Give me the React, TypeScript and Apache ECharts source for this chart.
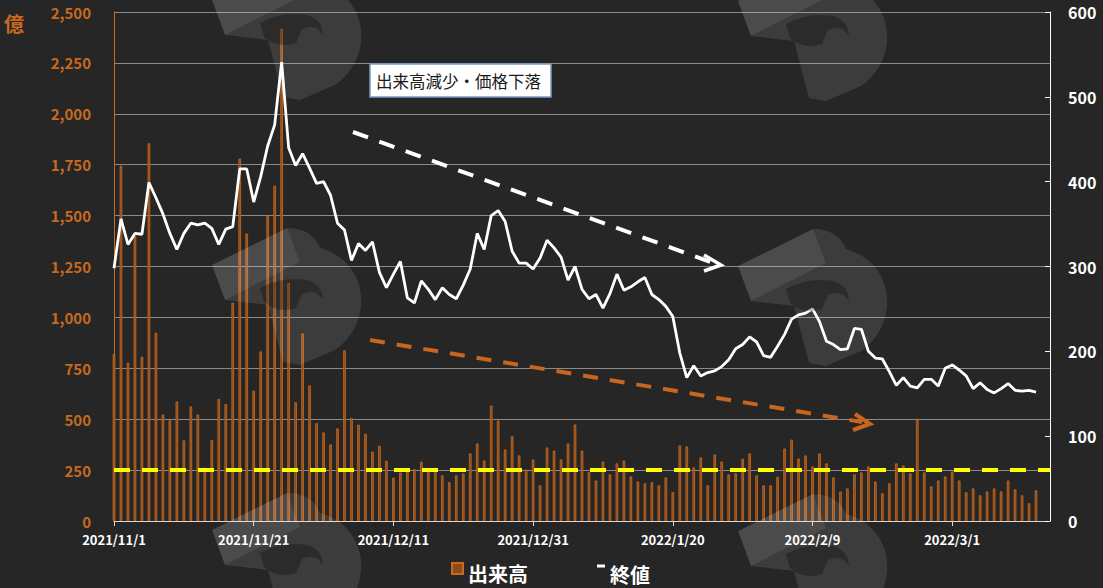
import React, { useEffect, useRef } from "react";
import * as echarts from "echarts";

// ---- data ----
const START_DATE = [2021, 11, 1];
const AXIS_DAYS = 135; // 2021/11/1 .. 2022/3/15 (axis extent)

const categories: string[] = (() => {
  const out: string[] = [];
  const t0 = Date.UTC(START_DATE[0], START_DATE[1] - 1, START_DATE[2]);
  for (let i = 0; i < AXIS_DAYS; i++) {
    const d = new Date(t0 + i * 86400000);
    out.push(`${d.getUTCFullYear()}/${d.getUTCMonth() + 1}/${d.getUTCDate()}`);
  }
  return out;
})();

// 出来高 (億)
const volume: number[] = [
  820, 1745, 777, 1400, 807, 1855, 925, 523, 495, 587,
  396, 563, 523, 262, 397, 599, 575, 1072, 1780, 1412,
  640, 833, 1500, 1647, 2418, 1170, 583, 921, 666, 480,
  435, 376, 455, 838, 506, 473, 428, 341, 370, 296,
  213, 238, 255, 255, 291, 240, 245, 224, 191, 224,
  234, 332, 381, 297, 567, 493, 351, 417, 322, 253,
  302, 175, 361, 346, 302, 381, 474, 346, 240, 199,
  292, 229, 283, 297, 219, 194, 185, 191, 175, 214,
  141, 371, 366, 263, 312, 175, 327, 292, 229, 234,
  306, 332, 224, 175, 175, 217, 356, 400, 307, 322,
  268, 332, 283, 214, 145, 160, 229, 239, 268, 194,
  136, 185, 283, 273, 234, 503, 239, 170, 199, 219,
  243, 199, 141, 160, 126, 145, 160, 145, 199, 155,
  126, 87, 150,
];

// 終値
const closePrice: number[] = [
  298, 356, 326, 339, 338, 399, 381, 362, 339, 320,
  339, 351, 349, 351, 345, 326, 344, 347, 415, 415,
  376, 406, 442, 467, 541, 440, 419, 433, 416, 398,
  400, 384, 351, 343, 307, 327, 319, 329, 293, 275,
  291, 306, 263, 257, 283, 273, 261, 275, 267, 262,
  278, 297, 339, 320, 360, 366, 353, 318, 304, 304,
  297, 310, 331, 322, 311, 284, 300, 273, 262, 267,
  251, 268, 291, 272, 276, 282, 287, 267, 261, 253,
  241, 198, 169, 183, 171, 175, 177, 182, 190, 203,
  208, 217, 211, 195, 193, 206, 220, 238, 243, 245,
  250, 235, 212, 208, 202, 203, 227, 226, 200, 192,
  191, 176, 160, 169, 159, 157, 167, 167, 159, 180,
  184, 178, 171, 156, 163, 155, 151, 156, 162, 154,
  153, 154, 152,
];

const VOLUME_NAME = "出来高";
const CLOSE_NAME = "終値";
const THRESHOLD = 250;
const ANNOTATION = "出来高減少・価格下落";
const UNIT = "億";

// ---- watermark shapes ----
const WM_MAIN =
  "M0,37 L75,0 Q100,0 108,20 C158,34 162,95 123,122 L88,137 L71,134 L56,77 L13,72 Z";
const WM_FLAG = "M0,37 L75,0 L88,34 L13,72 Z";
const WM_HEAD =
  "M48,60 Q70,48 95,52 Q110,56 111,72 L106,66 Q98,62 90,66 L84,80 Q66,86 52,74 Z";

let registered = false;
function registerShapes() {
  if (registered) return;
  registered = true;
  echarts.graphic.registerShape("wmMain", echarts.graphic.extendPath(WM_MAIN, {}));
  echarts.graphic.registerShape("wmFlag", echarts.graphic.extendPath(WM_FLAG, {}));
  echarts.graphic.registerShape("wmHead", echarts.graphic.extendPath(WM_HEAD, {}));
}

const ORANGE = "#c8691e";
const FONT = "'Noto Sans CJK JP', 'Noto Sans', sans-serif";

function logo(x: number, y: number) {
  return [
    { type: "wmMain", x, y, z: 50, silent: true, style: { fill: "rgba(255,255,255,0.10)" } },
    { type: "wmFlag", x, y, z: 51, silent: true, style: { fill: "rgba(255,255,255,0.08)" } },
    { type: "wmHead", x, y, z: 52, silent: true, style: { fill: "rgba(0,0,0,0.28)" } },
  ];
}

export default function App() {
  const ref = useRef<HTMLDivElement>(null);

  useEffect(() => {
    if (!ref.current) return;
    registerShapes();
    const chart = echarts.init(ref.current, null, { renderer: "svg" });

    const origins = [
      [212, -37], [212, 228], [212, 493],
      [738, -36], [738, 229], [738, 494],
    ];
    const logos = origins.flatMap(([x, y]) => logo(x, y));

    const option: any = {
      animation: false,
      backgroundColor: "#262626",
      grid: { left: 114, right: 53, top: 12, bottom: 67, containLabel: false },
      legend: [
        {
          data: [{ name: VOLUME_NAME, icon: "path://M0,0H11V11H0Z M0,20L0,20" }],
          left: 451,
          top: 562,
          padding: 0,
          itemWidth: 11,
          itemHeight: 20,
          selectedMode: false,
          textStyle: { color: "#ffffff", fontSize: 20, fontWeight: "bold", fontFamily: FONT },
        },
        {
          data: [{ name: CLOSE_NAME, icon: "path://M0,0H8V3H0Z M0,19L0,19" }],
          left: 597,
          top: 564,
          padding: 0,
          itemWidth: 8,
          itemHeight: 19,
          selectedMode: false,
          itemStyle: { borderWidth: 0 },
          textStyle: { color: "#ffffff", fontSize: 20, fontWeight: "bold", fontFamily: FONT },
        },
      ],
      xAxis: {
        type: "category",
        data: categories,
        boundaryGap: false,
        axisLine: { show: true, lineStyle: { color: "#d9d9d9", width: 1 } },
        axisTick: { show: true, interval: 19, length: 5, lineStyle: { color: "#d9d9d9" } },
        axisLabel: {
          interval: 19,
          color: "#ffffff",
          fontSize: 13,
          fontWeight: "bold",
          fontFamily: FONT,
          margin: 12,
        },
        splitLine: { show: false },
      },
      yAxis: [
        {
          type: "value",
          min: 0,
          max: 2500,
          interval: 250,
          axisLine: { show: true, lineStyle: { color: ORANGE, width: 1 } },
          axisTick: { show: false },
          axisLabel: {
            color: ORANGE,
            fontSize: 15,
            fontWeight: "bold",
            fontFamily: FONT,
            margin: 23,
            formatter: (v: number) => v.toLocaleString("en-US"),
          },
          splitLine: { show: true, lineStyle: { color: "#8a8a8a", width: 1 } },
        },
        {
          type: "value",
          position: "right",
          min: 0,
          max: 600,
          interval: 100,
          axisLine: { show: true, lineStyle: { color: "#ffffff", width: 1 } },
          axisTick: { show: true, inside: true, length: 5, lineStyle: { color: "#ffffff" } },
          axisLabel: {
            color: "#ffffff",
            fontSize: 16,
            fontWeight: "bold",
            fontFamily: FONT,
            margin: 18,
          },
          splitLine: { show: false },
        },
      ],
      series: [
        {
          name: VOLUME_NAME,
          type: "bar",
          yAxisIndex: 0,
          data: volume,
          barWidth: 2.6,
          itemStyle: { color: "#8e4a1a", borderColor: ORANGE, borderWidth: 0.8 },
          z: 2,
          markLine: {
            silent: true,
            symbol: "none",
            label: { show: false },
            lineStyle: { color: "#ffff00", width: 4, type: [16, 12] },
            data: [{ yAxis: THRESHOLD }],
          },
        },
        {
          name: CLOSE_NAME,
          type: "line",
          yAxisIndex: 1,
          data: closePrice,
          showSymbol: false,
          symbol: "none",
          itemStyle: { color: "#ffffff" },
          lineStyle: { color: "#ffffff", width: 2.8 },
          z: 3,
        },
      ],
      graphic: [
        ...logos,
        {
          type: "text",
          left: 4,
          top: 13,
          z: 60,
          style: { text: UNIT, fill: ORANGE, fontSize: 20, fontWeight: "bold", fontFamily: FONT },
        },
        {
          type: "rect",
          z: 60,
          shape: { x: 370, y: 64, width: 181, height: 33 },
          style: { fill: "#ffffff", stroke: "#7a9cc6", lineWidth: 1.5 },
        },
        {
          type: "text",
          z: 61,
          x: 376,
          y: 81,
          style: {
            text: ANNOTATION,
            fill: "#1a1a1a",
            fontSize: 16.5,
            fontFamily: FONT,
            verticalAlign: "middle",
            align: "left",
          },
        },
        {
          type: "line",
          z: 60,
          shape: { x1: 353, y1: 132, x2: 716, y2: 264 },
          style: { stroke: "#ffffff", lineWidth: 4, lineDash: [16, 12] },
        },
        {
          type: "polyline",
          z: 60,
          shape: { points: [[704, 255], [721, 265], [704, 271]] },
          style: { stroke: "#ffffff", lineWidth: 3.5, fill: null },
        },
        {
          type: "line",
          z: 60,
          shape: { x1: 370, y1: 340, x2: 862, y2: 422 },
          style: { stroke: "#c8651e", lineWidth: 4, lineDash: [15, 12] },
        },
        {
          type: "polyline",
          z: 60,
          shape: { points: [[855, 414], [870, 424], [853, 430]] },
          style: { stroke: "#c8651e", lineWidth: 4, fill: null },
        },
      ],
    };

    chart.setOption(option);
    return () => chart.dispose();
  }, []);

  return (
    <div
      ref={ref}
      style={{ position: "absolute", left: 0, top: 0, width: 1103, height: 588 }}
    />
  );
}
